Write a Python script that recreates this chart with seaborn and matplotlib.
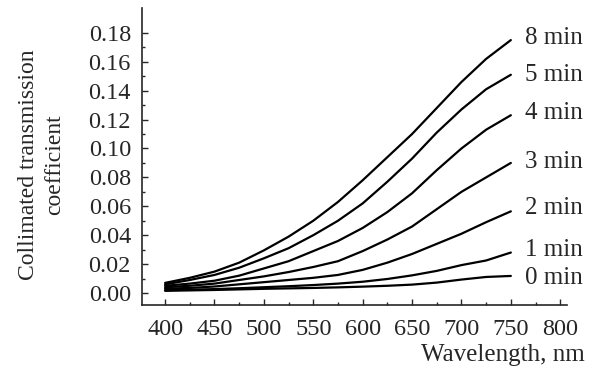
import numpy as np
import pandas as pd
import matplotlib
matplotlib.use("Agg")
import matplotlib.pyplot as plt
import seaborn as sns

# wavelength grid, nm
wavelength = [400, 425, 450, 475, 500, 525, 550, 575, 600, 625, 650, 675, 700, 725, 750]

# collimated transmission, one list per exposure time
t_0min = [0.0015, 0.0018, 0.0021, 0.0025, 0.0029, 0.0032, 0.0035, 0.0039, 0.0044, 0.005, 0.0058, 0.0072, 0.0093, 0.0111, 0.0118]
t_1min = [0.002, 0.0023, 0.0027, 0.0033, 0.004, 0.0047, 0.0055, 0.0065, 0.0078, 0.0097, 0.0122, 0.0153, 0.0193, 0.0225, 0.028]
t_2min = [0.003, 0.0035, 0.0045, 0.006, 0.0075, 0.009, 0.0105, 0.0125, 0.016, 0.021, 0.027, 0.034, 0.041, 0.049, 0.0565]
t_3min = [0.004, 0.005, 0.0065, 0.009, 0.0115, 0.0145, 0.018, 0.022, 0.029, 0.037, 0.046, 0.058, 0.070, 0.080, 0.090]
t_4min = [0.005, 0.0065, 0.0085, 0.012, 0.017, 0.022, 0.029, 0.036, 0.045, 0.056, 0.069, 0.085, 0.100, 0.113, 0.123]
t_5min = [0.006, 0.009, 0.0125, 0.0175, 0.024, 0.031, 0.040, 0.050, 0.062, 0.077, 0.093, 0.111, 0.127, 0.141, 0.151]
t_8min = [0.007, 0.0105, 0.0148, 0.021, 0.0295, 0.039, 0.050, 0.063, 0.078, 0.094, 0.110, 0.128, 0.146, 0.162, 0.175]

labels = ["0 min", "1 min", "2 min", "3 min", "4 min", "5 min", "8 min"]
series = [t_0min, t_1min, t_2min, t_3min, t_4min, t_5min, t_8min]
# y position of each curve label (data units)
label_y = [0.0104, 0.0298, 0.0589, 0.0909, 0.1247, 0.151, 0.1764]

rows = []
for lab, vals in zip(labels, series):
    for w, v in zip(wavelength, vals):
        rows.append({"wl": w, "T": v, "time": lab})
df = pd.DataFrame(rows)

sns.set_style("ticks")
plt.rcParams["font.family"] = ["Liberation Serif", "DejaVu Serif"]
plt.rcParams["xtick.direction"] = "in"
plt.rcParams["ytick.direction"] = "in"

fig = plt.figure(figsize=(5.97, 3.74), dpi=100)
ax = fig.add_axes([0.238, 0.1845, 0.712, 0.7945])

sns.lineplot(data=df, x="wl", y="T", hue="time", palette=["black"] * 7,
             legend=False, linewidth=1.6, ax=ax)

for lab, yv in zip(labels, label_y):
    ax.text(764, yv, lab, fontsize=18, va="center", ha="left", clip_on=False)

ax.set_xlim(376.7, 807)
ax.set_ylim(-0.0083, 0.1973)
ax.set_xticks(np.arange(400, 801, 50))
ax.set_xticks(np.arange(400, 801, 25), minor=True)
ax.set_yticks(np.arange(0, 0.181, 0.02))
ax.set_yticks(np.arange(0, 0.19, 0.01), minor=True)
ax.set_yticklabels([f"{v:.2f}" for v in np.arange(0, 0.181, 0.02)])
ax.tick_params(axis="both", which="major", length=4, width=1, labelsize=17.5)
ax.tick_params(axis="y", which="major", pad=8)
ax.tick_params(axis="x", which="major", pad=10)
ax.tick_params(axis="both", which="minor", length=2, width=1)
sns.despine(ax=ax)
for s in ["left", "bottom"]:
    ax.spines[s].set_linewidth(1.2)

ax.set_xlabel("")
ax.set_ylabel("")
fig.text(0.98, 0.05, "Wavelength, nm", fontsize=18, ha="right", va="center")
fig.text(0.07, 0.56, "Collimated transmission\ncoefficient", fontsize=17, rotation=90,
         ha="center", va="center", multialignment="center", linespacing=1.35)

fig.savefig("out.png", dpi=100)
